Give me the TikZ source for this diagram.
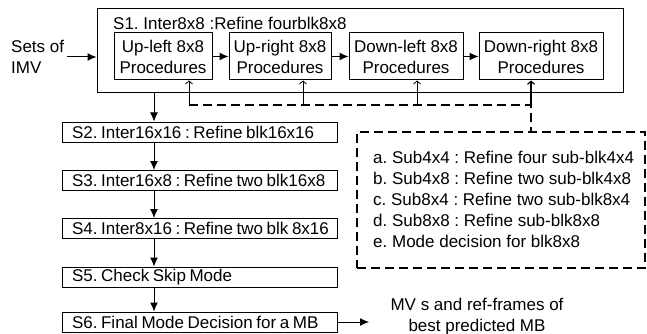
\documentclass[tikz,border=0pt]{standalone}
\usepackage{fontspec}
\setmainfont{Liberation Sans}
\usetikzlibrary{arrows.meta}
\newcommand\stxt[1]{\mbox{\spaceskip=3.6pt plus 0pt minus 0pt\relax\xspaceskip=3.6pt\relax #1}}
\begin{document}
\begin{tikzpicture}[x=1pt,y=-1pt,
  font=\fontsize{17}{21}\selectfont\frenchspacing,
  box/.style={draw, line width=1pt, inner sep=0pt, align=center},
  sbox/.style={draw, line width=1pt, text width=255pt, inner xsep=10pt, inner ysep=0pt, minimum height=20pt, align=left},
  arr/.style={line width=1pt, -{Latex[length=9pt,width=8pt]}},
  fb/.style={line width=0.8pt, -{Straight Barb[length=3pt,width=7pt]}},
  dsh/.style={line width=2.4pt, dash pattern=on 9pt off 5pt}]
\useasboundingbox (0,0) rectangle (647,334);
% S1 outer box
\node[box, minimum width=526pt, minimum height=84pt] (s1) at (360,51) {};
\node[anchor=west, inner sep=0pt] (s1t) at (113,23) {S1. Inter8x8 :Refine fourblk8x8};
\node[box, minimum width=98pt, minimum height=47pt] (ul) at (163,56.5) {Up-left 8x8\\Procedures};
\node[box, minimum width=102pt, minimum height=47pt] (ur) at (280,56.5) {Up-right 8x8\\Procedures};
\node[box, minimum width=114pt, minimum height=47pt] (dl) at (406,56.5) {Down-left 8x8\\Procedures};
\node[box, minimum width=124pt, minimum height=47pt] (dr) at (541,56.5) {Down-right 8x8\\Procedures};
\draw[arr] (ul) -- (ur);
\draw[arr] (ur) -- (dl);
\draw[arr] (dl) -- (dr);
% input
\node[anchor=west, align=left, inner sep=0pt] (in) at (11,57) {Sets of\\IMV};
\draw[arr] ([xshift=3pt]in.east) -- (in.east -| s1.west);
% S2..S6
\node[sbox] (s2) at (199.5,132) {\stxt{S2. Inter16x16 : Refine blk16x16}};
\node[sbox] (s3) at (199.5,180.5) {\stxt{S3. Inter16x8 : Refine two blk16x8}};
\node[sbox] (s4) at (199.5,228.5) {\stxt{S4. Inter8x16 : Refine two blk 8x16}};
\node[sbox] (s5) at (199.5,277) {\stxt{S5. Check Skip Mode}};
\node[sbox] (s6) at (199.5,322) {\stxt{S6. Final Mode Decision for a MB}};
\coordinate (ax) at (154,0);
\draw[arr] (s1.south -| ax) -- (s2.north -| ax);
\draw[arr] (s2.south -| ax) -- (s3.north -| ax);
\draw[arr] (s3.south -| ax) -- (s4.north -| ax);
\draw[arr] (s4.south -| ax) -- (s5.north -| ax);
\draw[arr] (s5.south -| ax) -- (s6.north -| ax);
% output
\node[align=center, inner sep=0pt] (out) at (477,316.5) {MV s and ref-frames of\\best predicted MB};
\coordinate (oe) at (369,322);
\draw[arr] (s6.east) -- (oe);
% dashed box
\node[draw, dsh, minimum width=288pt, minimum height=136pt] (db) at (501,200) {};
\node[anchor=west, align=left, inner sep=0pt] (dbt) at (373,199) {a. Sub4x4 : Refine four sub-blk4x4\\b. Sub4x8 : Refine two sub-blk4x8\\c. Sub8x4 : Refine two sub-blk8x4\\d. Sub8x8 : Refine sub-blk8x8\\e. Mode decision for blk8x8};
% feedback
\coordinate (fb1) at (189,105);
\coordinate (fb2) at (303,105);
\coordinate (fb3) at (417,105);
\coordinate (fb4) at (531,105);
\draw[dsh] (fb1) -- (fb4) -- (fb4 |- db.north);
\draw[fb] (fb1) -- (fb1 |- ul.south);
\draw[fb] (fb2) -- (fb2 |- ur.south);
\draw[fb] (fb3) -- (fb3 |- dl.south);
\draw[fb, line width=1.2pt] (fb4) -- (fb4 |- dr.south);
\end{tikzpicture}
\end{document}
